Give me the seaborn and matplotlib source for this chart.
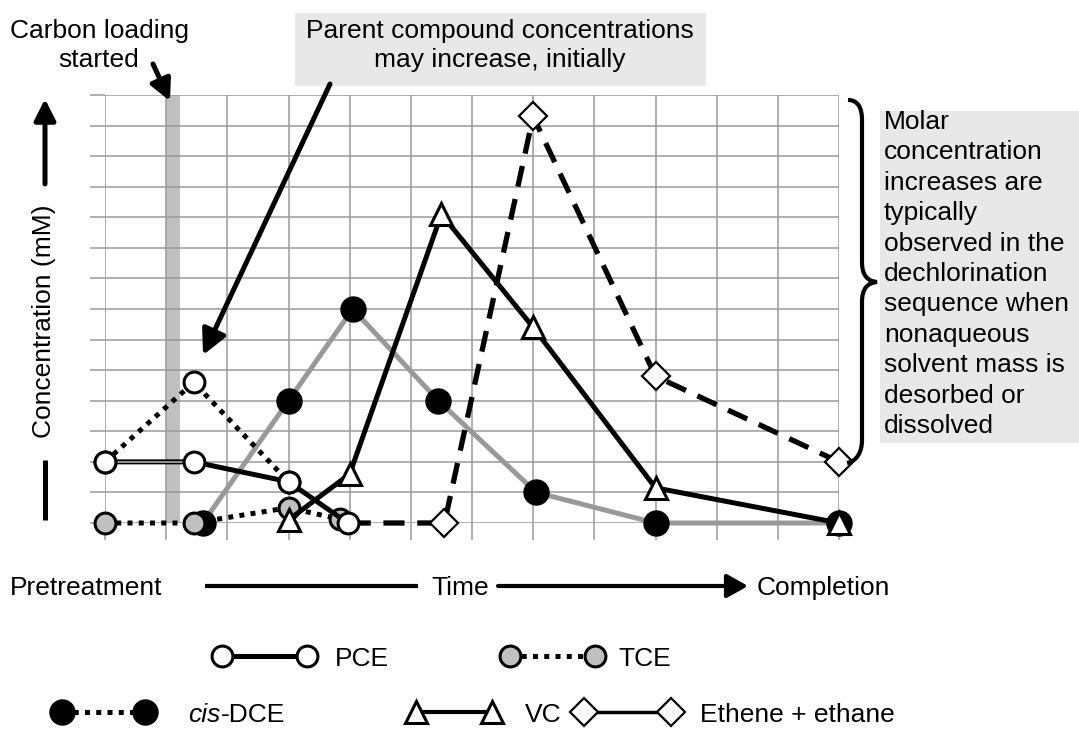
import numpy as np
import pandas as pd
import matplotlib
matplotlib.use("Agg")
import matplotlib.pyplot as plt
import seaborn as sns
from matplotlib.path import Path
from matplotlib.patches import PathPatch, Rectangle

# ---------------- data (time steps, concentration grid units) ----------------
pce_x = [0.0, 1.45, 3.0, 3.97]
pce_y = [2.0, 2.0, 1.35, 0.0]
pce_alt_x = [0.0, 1.45, 3.0]          # parent compound may increase initially
pce_alt_y = [2.0, 4.6, 1.35]
tce_x = [0.0, 1.45, 3.0, 3.85]
tce_y = [0.0, 0.0, 0.5, 0.12]
dce_x = [1.6, 3.0, 4.05, 5.45, 7.05, 9.0, 12.0]
dce_y = [0.0, 4.0, 7.0, 4.0, 1.0, 0.0, 0.0]
vc_x = [3.0, 4.0, 5.5, 7.0, 9.0, 12.0]
vc_y = [0.1, 1.6, 10.1, 6.4, 1.15, 0.0]
eth_x = [4.0, 5.55, 7.0, 9.0, 12.0]
eth_y = [0.0, 0.0, 13.3, 4.8, 2.0]
carbon_span = [1.0, 1.23]
x_grid = list(range(13))
y_grid = list(range(15))

legend_labels = ["PCE", "TCE", "cis", "-DCE", "VC", "Ethene + ethane"]
brace_text = ["Molar", "concentration", "increases are", "typically",
              "observed in the", "dechlorination", "sequence when",
              "nonaqueous", "solvent mass is", "desorbed or", "dissolved"]

# ---------------- style ----------------
sns.set_style("white")
plt.rcParams['font.family'] = ['Liberation Sans', 'DejaVu Sans']
plt.rcParams['text.color'] = 'black'
FS = 19

W, H = 1079, 736
fig = plt.figure(figsize=(W / 100, H / 100), dpi=100)
ax = fig.add_axes([105 / W, 1 - 523 / H, (839 - 105) / W, (523 - 95) / H])
ax.set_xlim(0, 12)
ax.set_ylim(0, 14)
ax.set_xticks(x_grid)
ax.set_yticks(y_grid)
ax.set_xticklabels([])
ax.set_yticklabels([])
ax.set_axisbelow(True)
ax.grid(True, color='#9a9a9a', lw=1.1)
for s in ax.spines.values():
    s.set_visible(False)
ax.tick_params(axis='y', direction='out', length=11, width=1.1, color='#9a9a9a', left=True)
ax.tick_params(axis='x', direction='out', length=12, width=1.1, color='#9a9a9a', bottom=True)

ax.axvspan(carbon_span[0], carbon_span[1], color='#c0c0c0', lw=0, zorder=0.3)


def series(x, y, **kw):
    df = pd.DataFrame({'t': x, 'c': y})
    sns.lineplot(data=df, x='t', y='c', ax=ax, sort=False, estimator=None,
                 clip_on=False, **kw)


dot = (0, (1.0, 1.25))
# cis-DCE
series(dce_x, dce_y, color='#999999', lw=3.6, marker='o', markersize=17,
       markerfacecolor='black', markeredgecolor='black', markeredgewidth=2, zorder=3)
# TCE
series(tce_x, tce_y, color='black', lw=3.6, linestyle=dot, dash_capstyle='butt',
       marker='o', markersize=15, markerfacecolor='#c0c0c0',
       markeredgecolor='black', markeredgewidth=2.2, zorder=4)
# Ethene + ethane (first point hidden behind PCE marker)
series(eth_x, eth_y, color='black', lw=3.8, linestyle=(0, (4, 2.4)), dash_capstyle='butt',
       marker='D', markersize=14.5, markerfacecolor='white', markevery=slice(1, None),
       markeredgecolor='black', markeredgewidth=1.6, zorder=5)
# VC
series(vc_x, vc_y, color='black', lw=3.6, marker='^', markersize=16,
       markerfacecolor='white', markeredgecolor='black', markeredgewidth=2.2, zorder=6)
# PCE (alternative, dotted)
series(pce_alt_x, pce_alt_y, color='black', lw=3.6, linestyle=dot, dash_capstyle='butt',
       marker='o', markersize=15, markerfacecolor='white',
       markeredgecolor='black', markeredgewidth=2.2, zorder=7)
# PCE solid
series(pce_x, pce_y, color='black', lw=3.6, zorder=8)
series(pce_x[:2], pce_y[:2], color='#bbbbbb', lw=1.1, zorder=8.1)
series(pce_x, pce_y, color='black', lw=0, linestyle='none', marker='o', markersize=15,
       markerfacecolor='white', markeredgecolor='black', markeredgewidth=2.2, zorder=8.2)
ax.set_xlabel('')
ax.set_ylabel('')

# ---------------- overlay for annotations (pixel coordinates) ----------------
ov = fig.add_axes([0, 0, 1, 1], zorder=10)
ov.set_xlim(0, W)
ov.set_ylim(H, 0)
ov.axis('off')


def arrow(x0, y0, x1, y1, lw=3.6, hl=0.75, hw=0.38, ms=20):
    ov.annotate('', xy=(x1, y1), xytext=(x0, y0),
                arrowprops=dict(arrowstyle=f'-|>,head_length={hl},head_width={hw}',
                                lw=lw, color='black', mutation_scale=ms,
                                shrinkA=0, shrinkB=0))


# top-left annotation
ov.text(99, 38, 'Carbon loading', fontsize=FS, ha='center', va='baseline')
ov.text(99, 67, 'started', fontsize=FS, ha='center', va='baseline')
arrow(153, 64, 170, 101, ms=17)

# top-centre annotation
ov.add_patch(Rectangle((295, 13), 411, 73, color='#e8e8e8', lw=0))
ov.text(500, 38, 'Parent compound concentrations', fontsize=FS, ha='center', va='baseline')
ov.text(500, 67, 'may increase, initially', fontsize=FS, ha='center', va='baseline')
arrow(330, 84, 203, 355)

# y axis label with arrow
ov.text(44, 321, 'Concentration (mM)', fontsize=FS, rotation=90, ha='center', va='center')
arrow(45, 184, 45, 99, ms=17)
ov.plot([45, 45], [460, 520], color='black', lw=3.6, solid_capstyle='butt')

# right brace
verts = [(848, 100), (858, 100), (862, 108), (862, 120),
         (862, 262),
         (862, 275), (867, 281), (877, 282),
         (867, 283), (862, 289), (862, 302),
         (862, 440),
         (862, 452), (857, 461), (847, 463)]
codes = [Path.MOVETO, Path.CURVE4, Path.CURVE4, Path.CURVE4,
         Path.LINETO,
         Path.CURVE4, Path.CURVE4, Path.CURVE4,
         Path.CURVE4, Path.CURVE4, Path.CURVE4,
         Path.LINETO,
         Path.CURVE4, Path.CURVE4, Path.CURVE4]
ov.add_patch(PathPatch(Path(verts, codes), fill=False, lw=3, color='black',
                       capstyle='butt'))
ov.add_patch(Rectangle((880, 111), 199, 332, color='#e8e8e8', lw=0))
for i, line in enumerate(brace_text):
    ov.text(884, 129 + 30.4 * i, line, fontsize=FS, ha='left', va='baseline')

# time axis
ov.text(10, 595, 'Pretreatment', fontsize=FS, ha='left', va='baseline')
ov.plot([205, 418], [586, 586], color='black', lw=3, solid_capstyle='butt')
ov.text(460, 595, 'Time', fontsize=FS, ha='center', va='baseline')
arrow(498, 586, 748, 586, lw=3, hl=0.8, hw=0.45, ms=16)
ov.text(757, 595, 'Completion', fontsize=FS, ha='left', va='baseline')

# legend
r1, r2 = 656, 712
ov.plot([222, 307], [r1, r1], color='black', lw=3.6, marker='o', markersize=15,
        markerfacecolor='white', markeredgecolor='black', markeredgewidth=2.2)
ov.text(335, r1 + 9.5, legend_labels[0], fontsize=FS, va='baseline')
ov.plot([510, 595], [r1, r1], color='black', lw=3.6, linestyle=dot, dash_capstyle='butt',
        marker='o', markersize=15, markerfacecolor='#c0c0c0',
        markeredgecolor='black', markeredgewidth=2.2)
ov.text(618, r1 + 9.5, legend_labels[1], fontsize=FS, va='baseline')

ov.plot([62, 145], [r2, r2], color='black', lw=3.6, linestyle=dot, dash_capstyle='butt',
        marker='o', markersize=17, markerfacecolor='black',
        markeredgecolor='black', markeredgewidth=2)
t_cis = ov.text(188, r2 + 9.5, legend_labels[2], fontsize=FS, style='italic', va='baseline')
fig.canvas.draw()
bb = t_cis.get_window_extent()
xr = ov.transData.inverted().transform((bb.x1, bb.y0))[0]
ov.text(xr, r2 + 9.5, legend_labels[3], fontsize=FS, va='baseline')

ov.plot([416, 492], [r2, r2], color='black', lw=3, marker='^', markersize=16,
        markerfacecolor='white', markeredgecolor='black', markeredgewidth=2.2)
ov.text(525, r2 + 9.5, legend_labels[4], fontsize=FS, va='baseline')
ov.plot([584, 671], [r2, r2], color='black', lw=2.5, marker='D', markersize=14.5,
        markerfacecolor='white', markeredgecolor='black', markeredgewidth=1.6)
ov.text(700, r2 + 9.5, legend_labels[5], fontsize=FS, va='baseline')

fig.savefig('out.png', dpi=100)
